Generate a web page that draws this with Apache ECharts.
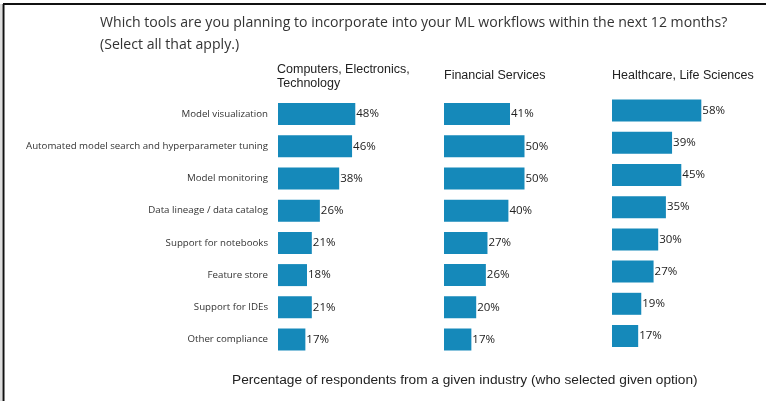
<!DOCTYPE html>
<html>
<head>
<meta charset="utf-8">
<script src="https://cdn.jsdelivr.net/npm/echarts@6/dist/echarts.min.js"></script>
<style>
  html, body { margin: 0; padding: 0; background: #fff; }
  #chart { width: 766px; height: 401px; }
</style>
</head>
<body>
<div id="chart"></div>
<script>
// Survey options, top to bottom
const tools = [
  'Model visualization',
  'Automated model search and hyperparameter tuning',
  'Model monitoring',
  'Data lineage / data catalog',
  'Support for notebooks',
  'Feature store',
  'Support for IDEs',
  'Other compliance'
];

// Industry panel headings
const industries = [
  'Computers, Electronics,\nTechnology',
  'Financial Services',
  'Healthcare, Life Sciences'
];

// Percent of respondents per industry, in the order of `tools`
const techValues = [48, 46, 38, 26, 21, 18, 21, 17];
const financeValues = [41, 50, 50, 40, 27, 26, 20, 17];
const healthValues = [58, 39, 45, 35, 30, 27, 19, 17];

const seriesValues = [techValues, financeValues, healthValues];

const BAR_COLOR = '#1589ba';
const panelLeft = [278, 444, 612];
const panelTop = [98, 98, 94.5];
const panelHeight = 257.6;
const panelWidth = 161; // width of a 0-100% axis

const chart = echarts.init(document.getElementById('chart'), null, { renderer: 'canvas' });

const grids = [], xAxes = [], yAxes = [], series = [];
seriesValues.forEach((vals, i) => {
  grids.push({ left: panelLeft[i], top: panelTop[i], width: panelWidth, height: panelHeight, containLabel: false });
  xAxes.push({
    type: 'value', gridIndex: i, min: 0, max: 100, show: false
  });
  yAxes.push({
    type: 'category', gridIndex: i, data: tools, inverse: true,
    axisLine: { show: false }, axisTick: { show: false },
    axisLabel: {
      show: i === 0, margin: 10, fontSize: 9.7, color: '#333',
      fontFamily: '"Open Sans", sans-serif'
    }
  });
  series.push({
    type: 'bar', xAxisIndex: i, yAxisIndex: i, data: vals, barWidth: 22,
    itemStyle: { color: BAR_COLOR },
    label: {
      show: true, position: 'right', distance: 1, formatter: '{c}%',
      fontSize: 11.5, color: '#222', fontFamily: '"Open Sans", sans-serif'
    },
    animation: false
  });
});

const graphics = [
  // frame lines along the left and top edges
  { type: 'line', shape: { x1: 3.5, y1: 4, x2: 3.5, y2: 401 }, style: { stroke: '#111', lineWidth: 2 } },
  { type: 'line', shape: { x1: 1, y1: 4, x2: 1, y2: 401 }, style: { stroke: '#bbb', lineWidth: 1 } },
  { type: 'line', shape: { x1: 3, y1: 4, x2: 766, y2: 4 }, style: { stroke: '#111', lineWidth: 2 } },
  {
    type: 'text', left: 100, top: 12,
    style: {
      text: 'Which tools are you planning to incorporate into your ML workflows within the next 12 months?\n(Select all that apply.)',
      font: '14.1px "Open Sans", sans-serif', fill: '#333', lineHeight: 22
    }
  },
  {
    type: 'text', left: 277, top: 63,
    style: { text: industries[0], font: '12.5px "Liberation Sans", Arial, sans-serif', fill: '#222', lineHeight: 14 }
  },
  {
    type: 'text', left: 444, top: 69,
    style: { text: industries[1], font: '12.5px "Liberation Sans", Arial, sans-serif', fill: '#222' }
  },
  {
    type: 'text', left: 612, top: 69,
    style: { text: industries[2], font: '12.5px "Liberation Sans", Arial, sans-serif', fill: '#222' }
  },
  {
    type: 'text', left: 232, top: 373,
    style: {
      text: 'Percentage of respondents from a given industry (who selected given option)',
      font: '13.7px "Liberation Sans", Arial, sans-serif', fill: '#222'
    }
  }
];

chart.setOption({
  backgroundColor: '#fff',
  animation: false,
  grid: grids,
  xAxis: xAxes,
  yAxis: yAxes,
  series: series,
  graphic: graphics
});
</script>
</body>
</html>
